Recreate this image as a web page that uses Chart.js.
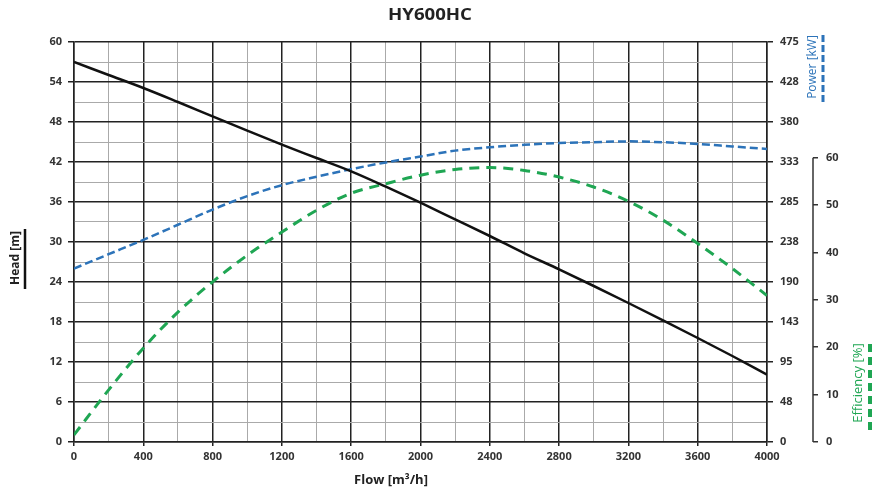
<!DOCTYPE html>
<html>
<head>
<meta charset="utf-8">
<script src="https://cdn.jsdelivr.net/npm/chart.js@4/dist/chart.umd.min.js"></script>
<style>
  html, body { margin: 0; padding: 0; background: #fff; }
  #wrap { width: 873px; height: 490px; }
</style>
</head>
<body>
<div id="wrap"><canvas id="c"></canvas></div>
<script>
// flow points [m3/h]
const flow = [0, 200, 400, 600, 800, 1000, 1200, 1400, 1600, 1800, 2000,
              2200, 2400, 2600, 2800, 3000, 3200, 3400, 3600, 3800, 4000];
// head [m]
const head = [57.0, 55.05, 53.1, 51.0, 48.85, 46.7, 44.6, 42.6, 40.6, 38.3, 35.9,
              33.4, 30.9, 28.3, 25.9, 23.4, 20.85, 18.25, 15.6, 12.9, 10.1];
// power [kW]
const power = [206, 223, 240, 258, 276, 292, 305, 315, 324, 332, 339,
               346, 350, 353, 355, 356, 357, 356, 354, 351, 348];
// efficiency [%]
const efficiency = [1.5, 11.0, 19.8, 27.4, 33.8, 39.4, 44.3, 48.9, 52.5, 54.5, 56.3,
                    57.5, 57.9, 57.3, 55.9, 53.8, 50.8, 46.8, 41.9, 36.6, 30.9];

const titleText = 'HY600HC';
const fontFam = '"Open Sans", "DejaVu Sans", sans-serif';

const pts = (arr) => flow.map((f, i) => ({ x: f, y: arr[i] }));

// title, axis names, efficiency axis line
const extras = {
  id: 'extras',
  afterDraw(chart) {
    const ctx = chart.ctx;
    ctx.save();
    ctx.fillStyle = '#222';
    ctx.textAlign = 'center';
    ctx.textBaseline = 'middle';

    // title, stretched a bit like the original
    ctx.save();
    ctx.font = 'bold 16px ' + fontFam;
    const w = ctx.measureText(titleText).width;
    ctx.translate(430, 15);
    ctx.scale(84 / w, 1);
    ctx.fillText(titleText, 0, 0);
    ctx.restore();

    ctx.font = 'bold 13px ' + fontFam;
    ctx.fillText('Flow [m\u00b3/h]', 391, 480);

    // efficiency axis line 0..60
    const s = chart.scales.y2;
    ctx.strokeStyle = '#333';
    ctx.lineWidth = 1.5;
    ctx.beginPath();
    ctx.moveTo(s.left, s.getPixelForValue(0));
    ctx.lineTo(s.left, s.getPixelForValue(60));
    ctx.stroke();

    const vtext = (txt, x, y, color, font) => {
      ctx.save();
      ctx.translate(x, y);
      ctx.rotate(-Math.PI / 2);
      ctx.fillStyle = color;
      ctx.font = font;
      ctx.fillText(txt, 0, 0);
      ctx.restore();
    };
    const vline = (x, y1, y2, color, w, dash) => {
      ctx.save();
      ctx.strokeStyle = color;
      ctx.lineWidth = w;
      ctx.setLineDash(dash);
      ctx.beginPath();
      ctx.moveTo(x, y1);
      ctx.lineTo(x, y2);
      ctx.stroke();
      ctx.restore();
    };
    vtext('Head [m]', 16, 258, '#222', 'bold 12px ' + fontFam);
    vline(25, 229, 289, '#111', 2.5, []);
    vtext('Power [kW]', 813, 67, '#2c73b9', '12px ' + fontFam);
    vline(823, 102, 33, '#2c73b9', 3, [7, 3]);
    vtext('Efficiency [%]', 858, 383, '#1fa653', '13px ' + fontFam);
    vline(870, 430, 340, '#1fa653', 4, [8, 5]);
    ctx.restore();
  }
};

const tickFont = { family: fontFam, size: 11, weight: 'bold' };

new Chart(document.getElementById('c'), {
  type: 'line',
  data: {
    datasets: [
      {
        label: 'Head',
        data: pts(head),
        yAxisID: 'y',
        borderColor: '#111',
        borderWidth: 2.5,
        pointRadius: 0,
        cubicInterpolationMode: 'monotone'
      },
      {
        label: 'Power',
        data: pts(power),
        yAxisID: 'y1',
        borderColor: '#2c73b9',
        borderWidth: 2.5,
        borderDash: [8, 4],
        pointRadius: 0,
        cubicInterpolationMode: 'monotone'
      },
      {
        label: 'Efficiency',
        data: pts(efficiency),
        yAxisID: 'y2',
        borderColor: '#1fa653',
        borderWidth: 3,
        borderDash: [10, 7],
        pointRadius: 0,
        cubicInterpolationMode: 'monotone'
      }
    ]
  },
  options: {
    responsive: true,
    maintainAspectRatio: false,
    animation: false,
    layout: { padding: { top: 42, left: 0, right: 0, bottom: 0 } },
    plugins: {
      legend: { display: false },
      tooltip: { enabled: false }
    },
    scales: {
      x: {
        type: 'linear',
        min: 0,
        max: 4000,
        afterFit: (s) => { s.height = 48; },
        ticks: {
          stepSize: 200,
          autoSkip: false,
          maxRotation: 0,
          padding: 4,
          color: '#333',
          font: tickFont,
          callback: (v) => (v % 400 === 0 ? v : '')
        },
        grid: {
          color: (c) => (c.tick && c.tick.value % 400 === 0 ? '#222' : '#aaa'),
          lineWidth: (c) => (c.tick && c.tick.value % 400 === 0 ? 1.5 : 1),
          tickColor: (c) => (c.tick && c.tick.value % 400 === 0 ? '#222' : 'rgba(0,0,0,0)'),
          tickLength: 4
        },
        border: { color: '#222', width: 1.5 }
      },
      y: {
        position: 'left',
        min: 0,
        max: 60,
        afterFit: (s) => { s.width = 74; },
        ticks: {
          stepSize: 3,
          autoSkip: false,
          padding: 6,
          color: '#333',
          font: tickFont,
          callback: (v) => (v % 6 === 0 ? v : '')
        },
        grid: {
          color: (c) => (c.tick && c.tick.value % 6 === 0 ? '#222' : '#aaa'),
          lineWidth: (c) => (c.tick && c.tick.value % 6 === 0 ? 1.5 : 1),
          tickColor: (c) => (c.tick && c.tick.value % 6 === 0 ? '#222' : 'rgba(0,0,0,0)'),
          tickLength: 6
        },
        border: { color: '#222', width: 1.5 }
      },
      y1: {
        position: 'right',
        min: 0,
        max: 475,
        afterFit: (s) => { s.width = 46; },
        ticks: {
          stepSize: 47.5,
          autoSkip: false,
          padding: 7,
          color: '#333',
          font: tickFont,
          callback: (v) => Math.round(v)
        },
        grid: {
          drawOnChartArea: false,
          color: '#222',
          lineWidth: 1.5,
          tickLength: 6
        },
        border: { color: '#222', width: 1.5 }
      },
      y2: {
        position: 'right',
        min: 0,
        max: 84.4,
        afterFit: (s) => { s.width = 60; },
        afterBuildTicks: (s) => { s.ticks = s.ticks.filter((t) => t.value <= 60); },
        ticks: {
          stepSize: 10,
          autoSkip: false,
          padding: 8,
          color: '#333',
          font: tickFont
        },
        grid: {
          drawOnChartArea: false,
          color: '#333',
          lineWidth: 1.5,
          tickLength: 5
        },
        border: { display: false }
      }
    }
  },
  plugins: [extras]
});
</script>
</body>
</html>
